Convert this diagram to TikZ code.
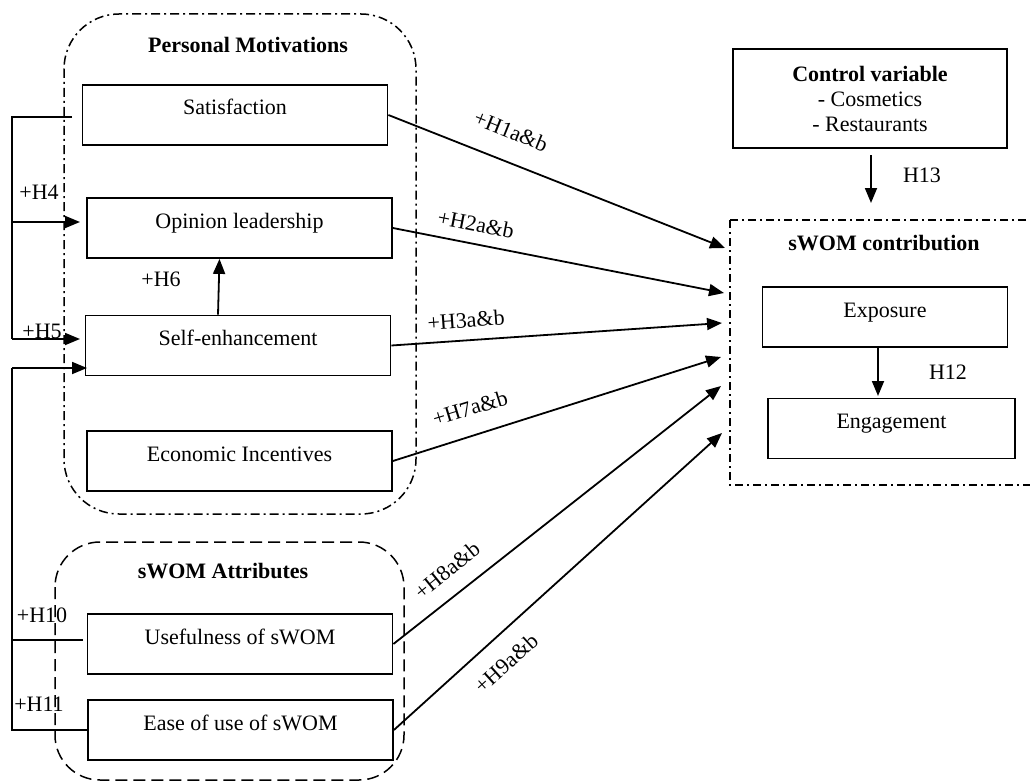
\documentclass[tikz,border=0pt]{standalone}
\usepackage{fontspec}
\setmainfont{Liberation Serif}
\usetikzlibrary{arrows.meta}

\tikzset{
	box/.style={draw, line width=1.8pt, minimum width=305pt, inner ysep=0pt, text height=30pt, text depth=30pt},
	title/.style={font=\fontsize{22}{25}\selectfont\bfseries},
	hyp/.style={inner sep=0pt},
	link/.style={line width=1.8pt},
}

\begin{document}
\begin{tikzpicture}[x=1pt, y=-1pt, >={Triangle[length=15pt,width=12pt]}, font=\fontsize{22}{25}\selectfont]
	\useasboundingbox (0,0) rectangle (1030,781);

	\draw [line width=1.5pt, dash pattern=on 9pt off 4pt on 2pt off 4pt, rounded corners=55pt] (64,14) rectangle (416,514);
	\draw [line width=1.5pt, dash pattern=on 12pt off 6pt, rounded corners=45pt] (55,542) rectangle (404,780);
	\draw [line width=1.5pt, dash pattern=on 8pt off 4pt on 2pt off 4pt] (730,220) rectangle (1045,485);

	\node[title] (pm) at (248,45) {Personal Motivations};
	\node[title] (attr) at (223,571) {sWOM Attributes};
	\node[title] (contrib) at (884,243) {sWOM contribution};

	\node[box] (sat) at (235,115) {Satisfaction};
	\node[box] (opin) at (239.5,228) {Opinion leadership};
	\node[box] (self) at (238,345.5) {Self-enhancement};
	\node[box] (econ) at (239.5,461) {Economic Incentives};
	\node[box] (useful) at (240,644) {Usefulness of sWOM};
	\node[box] (ease) at (240.5,730) {Ease of use of sWOM};

	\node[box, minimum width=245pt] (expo) at (885,317) {Exposure};
	\node[box, minimum width=247pt] (engage) at (891.5,428.5) {Engagement};

	\node[draw, line width=1.8pt, align=center, minimum width=274pt, minimum height=99pt] (control) at (870,98.5)
		{\textbf{Control variable}\\- Cosmetics\\- Restaurants};

	% arrow ends on sWOM contribution
	\coordinate (t1) at (725,248);
	\coordinate (t2) at (724,293);
	\coordinate (t3) at (722,323);
	\coordinate (t7) at (721,357);
	\coordinate (t8) at (721,386);
	\coordinate (t9) at (722,433);

	\draw [->, link] (sat.east) -- (t1);
	\draw [->, link] (opin.east) -- (t2);
	\draw [->, link] (self.east) -- (t3);
	\draw [->, link] (econ.east) -- (t7);
	\draw [->, link] (useful.east) -- (t8);
	\draw [->, link] (ease.east) -- (t9);

	\node[hyp, rotate=-22] (h1) at (511,131) {+H1a\&b};
	\node[hyp, rotate=-11] (h2) at (476,224) {+H2a\&b};
	\node[hyp, rotate=4] (h3) at (466,320) {+H3a\&b};
	\node[hyp, rotate=17] (h7) at (470,408) {+H7a\&b};
	\node[hyp, rotate=39] (h8) at (447,570) {+H8a\&b};
	\node[hyp, rotate=42] (h9) at (506,663) {+H9a\&b};

	\draw [->, link] ([xshift=-20pt]self.north) -- ([xshift=-20pt]opin.south);
	\node[hyp] (h6) at (161,279) {+H6};

	\coordinate (c13a) at (871,155);
	\coordinate (c13b) at (871,203);
	\draw [->, link] (c13a) -- (c13b);
	\node[hyp] (h13) at (922,175) {H13};

	\coordinate (c12) at (878,396);
	\draw [->, link] (expo.south -| c12) -- (c12);
	\node[hyp] (h12) at (948,372) {H12};

	% left brackets
	\coordinate (a1) at (72,117);
	\coordinate (a2) at (12,117);
	\coordinate (a3) at (12,339);
	\coordinate (a4) at (80,222);
	\coordinate (a5) at (80,339);
	\draw [link] (a1) -- (a2) -- (a3);
	\draw [->, link] (a2 |- a4) -- (a4);
	\draw [->, link] (a3) -- (a5);
	\node[hyp] (h4) at (39,192) {+H4};
	\node[hyp] (h5) at (42,331) {+H5};

	\coordinate (b1) at (12,368);
	\coordinate (b2) at (87,368);
	\coordinate (b3) at (83,640);
	\draw [->, link] (b1) -- (b2);
	\draw [link] (b1) |- (ease.west);
	\draw [link] (b1 |- b3) -- (b3);
	\node[hyp] (h10) at (42,615) {+H10};
	\node[hyp] (h11) at (39,704) {+H11};

\end{tikzpicture}
\end{document}
